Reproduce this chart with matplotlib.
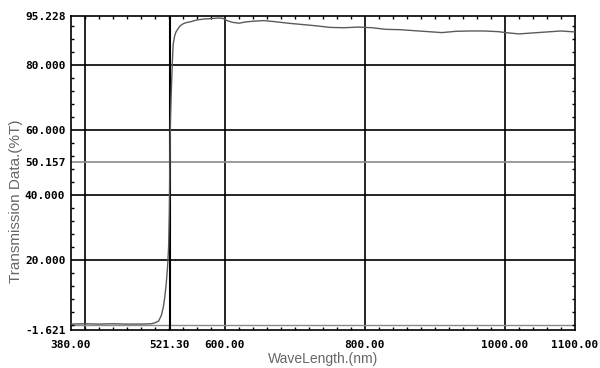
import matplotlib
matplotlib.use("Agg")
import matplotlib.pyplot as plt
from matplotlib.ticker import MultipleLocator, FixedLocator

# Transmission spectrum
wavelength = [380, 400, 420, 440, 460, 480, 495, 500, 505, 509, 512, 514, 516,
              518, 519.5, 520.5, 521.3, 522, 523, 524, 525, 526, 528, 530, 533,
              536, 540, 545, 550, 560, 570, 580, 590, 597, 603, 610, 620, 630,
              640, 655, 670, 690, 710, 730, 750, 770, 790, 810, 830, 850, 870,
              890, 910, 930, 950, 970, 990, 1005, 1020, 1040, 1060, 1080, 1100]
transmission = [0.2, 0.3, 0.2, 0.3, 0.2, 0.2, 0.3, 0.6, 1.1, 2.8, 5.5, 8.5, 12.5,
                18.0, 24.0, 35.0, 50.157, 62.0, 70.0, 76.0, 82.0, 86.5, 89.0, 90.3,
                91.3, 92.2, 92.8, 93.2, 93.4, 94.0, 94.3, 94.4, 94.6, 94.5, 93.8,
                93.3, 93.0, 93.4, 93.6, 93.8, 93.5, 93.0, 92.6, 92.2, 91.7, 91.6,
                91.8, 91.6, 91.1, 91.0, 90.7, 90.4, 90.1, 90.5, 90.6, 90.6, 90.4,
                90.0, 89.7, 90.0, 90.3, 90.6, 90.3]

x_ticks = [380, 521.3, 600, 800, 1000, 1100]
y_ticks = [-1.621, 20, 40, 50.157, 60, 80, 95.228]
x_grid = [400, 600, 800, 1000]
y_grid = [20, 40, 60, 80]
cursor_x = 521.3
cursor_y = 50.157

fig = plt.figure(figsize=(6, 3.68), dpi=100)
ax = fig.add_axes([0.1183, 0.1033, 0.84, 0.8533])

for g in x_grid:
    ax.axvline(g, color="black", lw=1.2, zorder=1)
for g in y_grid:
    ax.axhline(g, color="black", lw=1.2, zorder=1)
ax.axhline(cursor_y, color="#8a8a8a", lw=1.2, zorder=1)
ax.axhline(0, color="#8a8a8a", lw=1.0, zorder=1)
ax.axvline(cursor_x, color="black", lw=1.5, zorder=2)

ax.plot(wavelength, transmission, color="#5a5a5a", lw=1.0, zorder=3)

ax.set_xlim(380, 1100)
ax.set_ylim(-1.621, 95.228)

ax.xaxis.set_major_locator(FixedLocator(x_ticks))
ax.yaxis.set_major_locator(FixedLocator(y_ticks))
ax.set_xticklabels([f"{v:.2f}" for v in x_ticks])
ax.set_yticklabels([f"{v:.3f}" for v in y_ticks])
ax.xaxis.set_minor_locator(MultipleLocator(20))
ax.yaxis.set_minor_locator(MultipleLocator(4))

ax.tick_params(which="major", length=0, labelsize=8, labelcolor="black")
ax.tick_params(axis="x", which="major", pad=7)
ax.tick_params(axis="y", which="major", pad=4)
ax.tick_params(which="minor", direction="in", length=2.5, width=1.0,
               top=True, right=True, color="black")
for lab in ax.get_xticklabels() + ax.get_yticklabels():
    lab.set_family("DejaVu Sans Mono")
    lab.set_fontweight("bold")

for s in ax.spines.values():
    s.set_linewidth(1.2)
    s.set_color("black")

ax.set_xlabel("WaveLength.(nm)", family="Liberation Sans", fontsize=10,
              color="#666666", labelpad=2)
ax.set_ylabel("Transmission Data.(%T)", family="Liberation Sans", fontsize=11,
              color="#666666")
ax.yaxis.set_label_coords(-0.095, 0.41)

fig.savefig("out.png", dpi=100)
